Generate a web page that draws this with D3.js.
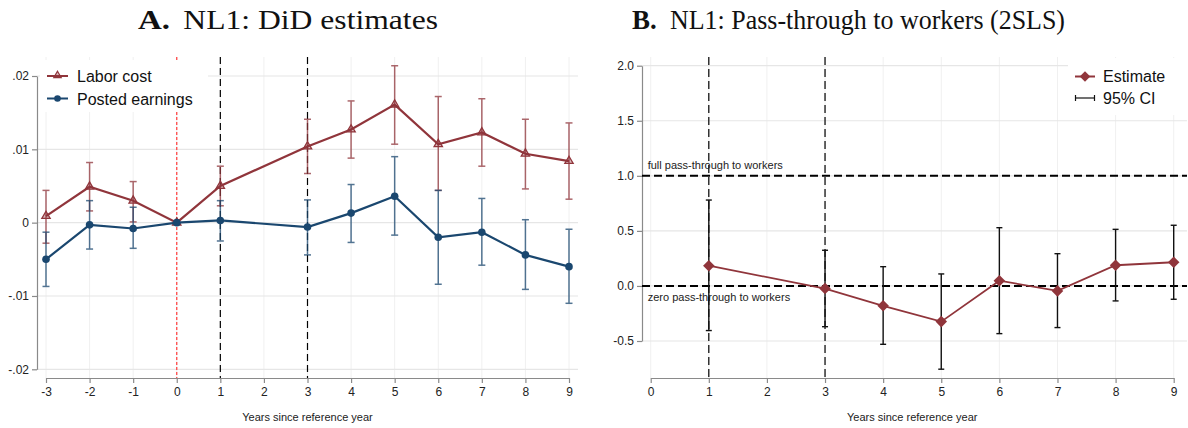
<!DOCTYPE html>
<html>
<head>
<meta charset="utf-8">
<script src="https://cdn.jsdelivr.net/npm/d3@7"></script>
<style>
  html, body { margin: 0; padding: 0; background: #fff; }
  svg { display: block; }
</style>
</head>
<body>
<svg id="chart" width="1188" height="428"></svg>
<script>
// ---------------- DATA ----------------
const yearsA = [-3, -2, -1, 0, 1, 3, 4, 5, 6, 7, 8, 9];
const laborCost   = [0.0009, 0.0049, 0.0030, 0, 0.0050, 0.0104, 0.0127, 0.0161, 0.0107, 0.0123, 0.0094, 0.0084];
const laborLo     = [-0.0028, 0.0016, 0.0001, 0, 0.0023, 0.0067, 0.0088, 0.0107, 0.0044, 0.0077, 0.0046, 0.0032];
const laborHi     = [0.0044, 0.0082, 0.0056, 0, 0.0077, 0.0141, 0.0166, 0.0214, 0.0172, 0.0169, 0.0141, 0.0136];
const postedEarn  = [-0.0050, -0.0003, -0.0008, 0, 0.0003, -0.0006, 0.0013, 0.0036, -0.0020, -0.0013, -0.0044, -0.0060];
const postedLo    = [-0.0087, -0.0036, -0.0035, 0, -0.0025, -0.0044, -0.0027, -0.0017, -0.0084, -0.0058, -0.0091, -0.0110];
const postedHi    = [-0.0013, 0.0030, 0.0021, 0, 0.0030, 0.0031, 0.0052, 0.0090, 0.0044, 0.0033, 0.0004, -0.0009];

const yearsB = [1, 3, 4, 5, 6, 7, 8, 9];
const estimate = [0.184, -0.024, -0.180, -0.324, 0.048, -0.045, 0.188, 0.215];
const estLo    = [-0.405, -0.370, -0.530, -0.756, -0.433, -0.378, -0.136, -0.121];
const estHi    = [0.780, 0.324, 0.175, 0.109, 0.529, 0.293, 0.514, 0.551];

const xTicksA = [-3, -2, -1, 0, 1, 2, 3, 4, 5, 6, 7, 8, 9];
const xLabelsA = ["-3", "-2", "-1", "0", "1", "2", "3", "4", "5", "6", "7", "8", "9"];
const yTicksA = [-0.02, -0.01, 0, 0.01, 0.02];
const yLabelsA = ["-.02", "-.01", "0", ".01", ".02"];
const xTicksB = [0, 1, 2, 3, 4, 5, 6, 7, 8, 9];
const xLabelsB = ["0", "1", "2", "3", "4", "5", "6", "7", "8", "9"];
const yTicksB = [-0.5, 0, 0.5, 1.0, 1.5, 2.0];
const yLabelsB = ["-0.5", "0.0", "0.5", "1.0", "1.5", "2.0"];

const vLinesA = [1, 3];
const refLineA = 0;
const vLinesB = [1, 3];
const hLinesB = [1, 0];

const seriesNamesA = ["Labor cost", "Posted earnings"];
const legendNamesB = ["Estimate", "95% CI"];
const titleA = ["A.", "NL1: DiD estimates"];
const titleB = ["B.", "NL1: Pass-through to workers (2SLS)"];
const xTitle = "Years since reference year";
const annotFull = "full pass-through to workers";
const annotZero = "zero pass-through to workers";

// ---------------- STYLE ----------------
const MAROON = "#90353b";
const NAVY = "#1a476f";
const AXIS = "#8a8a8a";
const GRID_H = "#e6e6e6";
const GRID_V = "#f0f0f0";
const SANS = "'Liberation Sans', Arial, sans-serif";
const SERIF = "'Liberation Serif', 'DejaVu Serif', serif";

const svg = d3.select("#chart");

function styleAxis(g) {
  g.selectAll("path.domain").attr("stroke", AXIS).attr("stroke-width", 1.2);
  g.selectAll(".tick line").attr("stroke", AXIS).attr("stroke-width", 1.2);
  g.selectAll(".tick text").attr("fill", "#222").style("font-family", SANS).style("font-size", "12px");
}

// ---------------- PANEL A ----------------
const A = { left: 37, right: 578, top: 57, bottom: 378 };
const xA = d3.scaleLinear().domain([-3, 9]).range([46, 569]);
const yA = d3.scaleLinear().domain([-0.02, 0.02]).range([369.3, 76]);

const gA = svg.append("g");
gA.selectAll(".vgrid").data(xTicksA).join("line")
  .attr("x1", d => xA(d)).attr("x2", d => xA(d))
  .attr("y1", A.top).attr("y2", A.bottom)
  .attr("stroke", GRID_V).attr("stroke-width", 1);
gA.selectAll(".hgrid").data(yTicksA).join("line")
  .attr("x1", A.left).attr("x2", A.right)
  .attr("y1", d => yA(d)).attr("y2", d => yA(d))
  .attr("stroke", GRID_H).attr("stroke-width", 1.2);

const axLA = d3.axisLeft(yA).tickValues(yTicksA).tickFormat((d, i) => yLabelsA[i]).tickSize(5).tickSizeOuter(0).tickPadding(3);
const axBA = d3.axisBottom(xA).tickValues(xTicksA).tickFormat((d, i) => xLabelsA[i]).tickSize(5).tickSizeOuter(0).tickPadding(4);
gA.append("g").attr("transform", `translate(${A.left},0)`).call(axLA).call(styleAxis);
gA.append("g").attr("transform", `translate(0,${A.bottom})`).call(axBA).call(styleAxis);

gA.append("line")
  .attr("x1", xA(refLineA)).attr("x2", xA(refLineA)).attr("y1", A.top).attr("y2", A.bottom)
  .attr("stroke", "#ff3b3b").attr("stroke-width", 1.2).attr("stroke-dasharray", "3,2");
gA.selectAll(".vline").data(vLinesA).join("line")
  .attr("x1", d => xA(d)).attr("x2", d => xA(d)).attr("y1", A.top).attr("y2", A.bottom)
  .attr("stroke", "#000").attr("stroke-width", 1.2).attr("stroke-dasharray", "7,4");

function drawSeries(g, xs, vals, lo, hi, color, marker) {
  const pts = xs.map((x, i) => ({ x, v: vals[i], lo: lo[i], hi: hi[i] }));
  const ci = g.append("g").attr("opacity", 0.75);
  pts.filter(p => p.lo !== p.hi).forEach(p => {
    const X = xA(p.x);
    ci.append("line").attr("x1", X).attr("x2", X).attr("y1", yA(p.lo)).attr("y2", yA(p.hi)).attr("stroke", color).attr("stroke-width", 1.5);
    ci.append("line").attr("x1", X - 3.5).attr("x2", X + 3.5).attr("y1", yA(p.lo)).attr("y2", yA(p.lo)).attr("stroke", color).attr("stroke-width", 1.5);
    ci.append("line").attr("x1", X - 3.5).attr("x2", X + 3.5).attr("y1", yA(p.hi)).attr("y2", yA(p.hi)).attr("stroke", color).attr("stroke-width", 1.5);
  });
  const line = d3.line().x(p => xA(p.x)).y(p => yA(p.v));
  g.append("path").datum(pts).attr("d", line).attr("fill", "none").attr("stroke", color).attr("stroke-width", 2.2);
  pts.forEach(p => {
    if (marker === "triangle") {
      g.append("path").attr("d", d3.symbol(d3.symbolTriangle, 30)())
        .attr("transform", `translate(${xA(p.x)},${yA(p.v)})`)
        .attr("fill", color).attr("fill-opacity", 0.35).attr("stroke", color).attr("stroke-width", 1.3);
    } else {
      g.append("circle").attr("cx", xA(p.x)).attr("cy", yA(p.v)).attr("r", 3.8).attr("fill", color);
    }
  });
}
drawSeries(gA, yearsA, laborCost, laborLo, laborHi, MAROON, "triangle");
drawSeries(gA, yearsA, postedEarn, postedLo, postedHi, NAVY, "circle");

const legA = gA.append("g");
legA.append("rect").attr("x", 40).attr("y", 60).attr("width", 168).attr("height", 52).attr("fill", "#fff");
const legItemsA = [{ name: seriesNamesA[0], color: MAROON, marker: "triangle", y: 76 }, { name: seriesNamesA[1], color: NAVY, marker: "circle", y: 98.5 }];
legItemsA.forEach(it => {
  legA.append("line").attr("x1", 47).attr("x2", 68).attr("y1", it.y).attr("y2", it.y).attr("stroke", it.color).attr("stroke-width", 2);
  if (it.marker === "triangle") {
    legA.append("path").attr("d", d3.symbol(d3.symbolTriangle, 24)()).attr("transform", `translate(57.5,${it.y - 0.5})`)
      .attr("fill", it.color).attr("fill-opacity", 0.35).attr("stroke", it.color).attr("stroke-width", 1.2);
  } else {
    legA.append("circle").attr("cx", 57.5).attr("cy", it.y).attr("r", 3.3).attr("fill", it.color);
  }
  legA.append("text").attr("x", 77).attr("y", it.y + 6).text(it.name)
    .style("font-family", SANS).style("font-size", "16px").attr("fill", "#111");
});

svg.append("text").attr("x", 138).attr("y", 29).text(titleA[0])
  .style("font-family", SERIF).style("font-weight", "bold").style("font-size", "27px").attr("fill", "#111")
  .attr("textLength", 32).attr("lengthAdjust", "spacingAndGlyphs");
svg.append("text").attr("x", 183.3).attr("y", 29).text(titleA[1])
  .style("font-family", SERIF).style("font-size", "27px").attr("fill", "#111")
  .attr("textLength", 254.7).attr("lengthAdjust", "spacingAndGlyphs");
svg.append("text").attr("x", (xA(-3) + xA(9)) / 2).attr("y", 421).attr("text-anchor", "middle").text(xTitle)
  .style("font-family", SANS).style("font-size", "11px").attr("fill", "#222");

// ---------------- PANEL B ----------------
const B = { left: 642, right: 1187, top: 57, bottom: 378 };
const xB = d3.scaleLinear().domain([0, 9]).range([650.7, 1173.7]);
const yB = d3.scaleLinear().domain([-0.5, 2.0]).range([341, 65.7]);

const gB = svg.append("g");
gB.selectAll(".vgrid").data(xTicksB).join("line")
  .attr("x1", d => xB(d)).attr("x2", d => xB(d)).attr("y1", B.top).attr("y2", B.bottom)
  .attr("stroke", GRID_V).attr("stroke-width", 1);
gB.selectAll(".hgrid").data(yTicksB).join("line")
  .attr("x1", B.left).attr("x2", B.right).attr("y1", d => yB(d)).attr("y2", d => yB(d))
  .attr("stroke", GRID_H).attr("stroke-width", 1.2);

const axLB = d3.axisLeft(yB).tickValues(yTicksB).tickFormat((d, i) => yLabelsB[i]).tickSize(5).tickSizeOuter(0).tickPadding(3);
const axBB = d3.axisBottom(xB).tickValues(xTicksB).tickFormat((d, i) => xLabelsB[i]).tickSize(5).tickSizeOuter(0).tickPadding(4);
gB.append("g").attr("transform", `translate(${B.left},0)`).call(axLB).call(styleAxis);
gB.append("g").attr("transform", `translate(0,${B.bottom})`).call(axBB).call(styleAxis);

gB.selectAll(".hline").data(hLinesB).join("line")
  .attr("x1", B.left).attr("x2", B.right).attr("y1", d => yB(d)).attr("y2", d => yB(d))
  .attr("stroke", "#000").attr("stroke-width", 2).attr("stroke-dasharray", "8,4");
gB.selectAll(".vline").data(vLinesB).join("line")
  .attr("x1", d => xB(d)).attr("x2", d => xB(d)).attr("y1", B.top).attr("y2", B.bottom)
  .attr("stroke", "#000").attr("stroke-width", 1.2).attr("stroke-dasharray", "8,4");

gB.append("text").attr("x", 647.7).attr("y", 169).text(annotFull)
  .style("font-family", SANS).style("font-size", "11px").attr("fill", "#222");
gB.append("text").attr("x", 647.7).attr("y", 301).text(annotZero)
  .style("font-family", SANS).style("font-size", "11px").attr("fill", "#222");

const ptsB = yearsB.map((x, i) => ({ x, v: estimate[i], lo: estLo[i], hi: estHi[i] }));
const ciB = gB.append("g");
ptsB.forEach(p => {
  const X = xB(p.x);
  ciB.append("line").attr("x1", X).attr("x2", X).attr("y1", yB(p.lo)).attr("y2", yB(p.hi)).attr("stroke", "#111").attr("stroke-width", 1.4);
  ciB.append("line").attr("x1", X - 3).attr("x2", X + 3).attr("y1", yB(p.lo)).attr("y2", yB(p.lo)).attr("stroke", "#111").attr("stroke-width", 1.4);
  ciB.append("line").attr("x1", X - 3).attr("x2", X + 3).attr("y1", yB(p.hi)).attr("y2", yB(p.hi)).attr("stroke", "#111").attr("stroke-width", 1.4);
});
gB.append("path").datum(ptsB).attr("d", d3.line().x(p => xB(p.x)).y(p => yB(p.v)))
  .attr("fill", "none").attr("stroke", MAROON).attr("stroke-width", 1.8);
gB.selectAll(".dia").data(ptsB).join("path")
  .attr("d", d3.symbol(d3.symbolDiamond2, 85)())
  .attr("transform", p => `translate(${xB(p.x)},${yB(p.v)})`)
  .attr("fill", MAROON);

const legB = gB.append("g");
legB.append("rect").attr("x", 1068).attr("y", 58).attr("width", 119).attr("height", 57).attr("fill", "#fff");
legB.append("line").attr("x1", 1075).attr("x2", 1095).attr("y1", 76.5).attr("y2", 76.5).attr("stroke", MAROON).attr("stroke-width", 2);
legB.append("path").attr("d", d3.symbol(d3.symbolDiamond2, 70)()).attr("transform", "translate(1085,76.5)").attr("fill", MAROON);
legB.append("line").attr("x1", 1075).attr("x2", 1095).attr("y1", 98).attr("y2", 98).attr("stroke", "#111").attr("stroke-width", 1.2);
legB.append("line").attr("x1", 1075.5).attr("x2", 1075.5).attr("y1", 95).attr("y2", 101).attr("stroke", "#111").attr("stroke-width", 1.2);
legB.append("line").attr("x1", 1094.5).attr("x2", 1094.5).attr("y1", 95).attr("y2", 101).attr("stroke", "#111").attr("stroke-width", 1.2);
legB.append("text").attr("x", 1103).attr("y", 82).text(legendNamesB[0]).style("font-family", SANS).style("font-size", "16px").attr("fill", "#111");
legB.append("text").attr("x", 1103).attr("y", 104).text(legendNamesB[1]).style("font-family", SANS).style("font-size", "16px").attr("fill", "#111");

svg.append("text").attr("x", 632).attr("y", 29).text(titleB[0])
  .style("font-family", SERIF).style("font-weight", "bold").style("font-size", "27px").attr("fill", "#111")
  .attr("textLength", 24.7).attr("lengthAdjust", "spacingAndGlyphs");
svg.append("text").attr("x", 670).attr("y", 29).text(titleB[1])
  .style("font-family", SERIF).style("font-size", "27px").attr("fill", "#111")
  .attr("textLength", 395).attr("lengthAdjust", "spacingAndGlyphs");
svg.append("text").attr("x", (xB(0) + xB(9)) / 2).attr("y", 421).attr("text-anchor", "middle").text(xTitle)
  .style("font-family", SANS).style("font-size", "11px").attr("fill", "#222");
</script>
</body>
</html>
